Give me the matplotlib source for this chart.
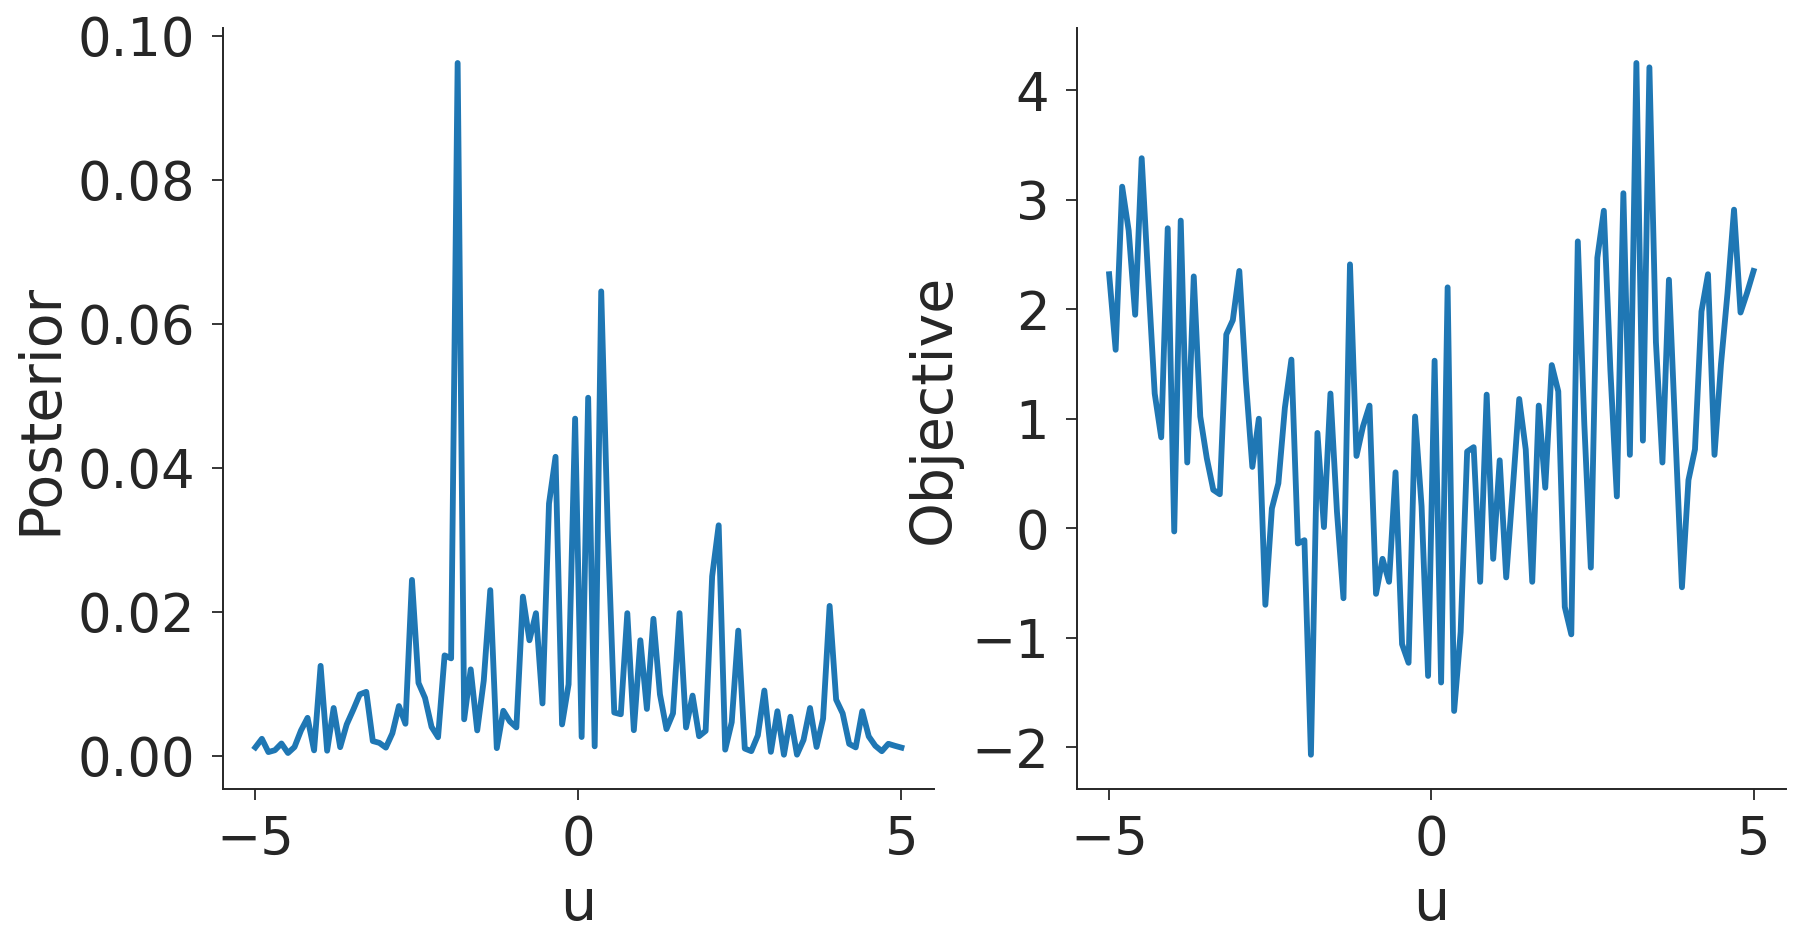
import numpy as np
import matplotlib
matplotlib.use("Agg")
import matplotlib.pyplot as plt

# grid of u values (100 points from -5 to 5)
u_start, u_stop, n_points = -5.0, 5.0, 100

objective = [
    2.32, 1.63, 3.12, 2.72, 1.95, 3.38, 2.28, 1.23, 0.83, 2.74,
    -0.03, 2.81, 0.60, 2.30, 1.02, 0.64, 0.35, 0.31, 1.77, 1.90,
    2.35, 1.35, 0.56, 1.00, -0.70, 0.18, 0.41, 1.10, 1.54, -0.14,
    -0.11, -2.07, 0.87, 0.01, 1.23, 0.15, -0.64, 2.41, 0.66, 0.93,
    1.12, -0.60, -0.28, -0.49, 0.51, -1.06, -1.23, 1.02, 0.20, -1.35,
    1.53, -1.41, 2.20, -1.67, -0.95, 0.70, 0.74, -0.49, 1.22, -0.28,
    0.62, -0.45, 0.35, 1.18, 0.72, -0.49, 1.12, 0.37, 1.49, 1.25,
    -0.72, -0.97, 2.62, 0.95, -0.36, 2.47, 2.90, 1.45, 0.29, 3.06,
    0.67, 4.25, 0.80, 4.21, 1.70, 0.60, 2.27, 0.85, -0.54, 0.44,
    0.72, 1.98, 2.32, 0.67, 1.50, 2.15, 2.91, 1.97, 2.15, 2.35,
]

posterior = [
    0.00119, 0.00238, 0.00054, 0.00080, 0.00173, 0.00041, 0.00124, 0.00355, 0.00529, 0.00078,
    0.01251, 0.00073, 0.00666, 0.00122, 0.00438, 0.00640, 0.00855, 0.00890, 0.00207, 0.00182,
    0.00116, 0.00315, 0.00693, 0.00447, 0.02444, 0.01014, 0.00806, 0.00404, 0.00260, 0.01396,
    0.01355, 0.09620, 0.00509, 0.01202, 0.00355, 0.01045, 0.02302, 0.00109, 0.00627, 0.00479,
    0.00396, 0.02212, 0.01606, 0.01982, 0.00729, 0.03504, 0.04153, 0.00438, 0.00994, 0.04683,
    0.00263, 0.04973, 0.00134, 0.06449, 0.03139, 0.00603, 0.00579, 0.01982, 0.00358, 0.01606,
    0.00653, 0.01904, 0.00855, 0.00373, 0.00591, 0.01982, 0.00396, 0.00838, 0.00274, 0.00348,
    0.02494, 0.03202, 0.00088, 0.00469, 0.01740, 0.00103, 0.00067, 0.00285, 0.00908, 0.00057,
    0.00621, 0.00017, 0.00545, 0.00018, 0.00222, 0.00666, 0.00125, 0.00519, 0.02083, 0.00782,
    0.00591, 0.00168, 0.00119, 0.00621, 0.00271, 0.00141, 0.00066, 0.00169, 0.00141, 0.00116,
]

u = np.linspace(u_start, u_stop, n_points)

TEXT = "#262626"
LINE = "#1f77b4"
plt.rcParams.update({
    "font.family": ["DejaVu Sans"],
    "text.color": TEXT,
    "axes.labelcolor": TEXT,
    "xtick.color": TEXT,
    "ytick.color": TEXT,
    "axes.edgecolor": TEXT,
    "axes.linewidth": 1.4,
    "xtick.major.size": 8,
    "ytick.major.size": 8,
    "xtick.major.width": 1.3,
    "ytick.major.width": 1.3,
    "xtick.labelsize": 38,
    "ytick.labelsize": 38,
    "axes.labelsize": 41,
})

fig = plt.figure(figsize=(18.06, 9.47), dpi=100)
ax1 = fig.add_axes([0.1235, 0.1665, 0.3935, 0.8035])
ax2 = fig.add_axes([0.5963, 0.1665, 0.3925, 0.8035])

ax1.plot(u, posterior, color=LINE, lw=4.2)
ax1.set_xlabel("u", labelpad=8)
ax1.set_ylabel("Posterior", labelpad=7)
ax1.set_yticks([0.0, 0.02, 0.04, 0.06, 0.08, 0.10])
ax1.set_yticklabels(["0.00", "0.02", "0.04", "0.06", "0.08", "0.10"])

ax2.plot(u, objective, color=LINE, lw=4.2)
ax2.set_xlabel("u", labelpad=8)
ax2.set_ylabel("Objective", labelpad=7)

for ax in (ax1, ax2):
    ax.set_xticks([-5, 0, 5])
    ax.spines["top"].set_visible(False)
    ax.spines["right"].set_visible(False)
    ax.tick_params(axis="y", pad=12)
    ax.tick_params(axis="x", pad=10)

fig.savefig("out.png", dpi=100)
